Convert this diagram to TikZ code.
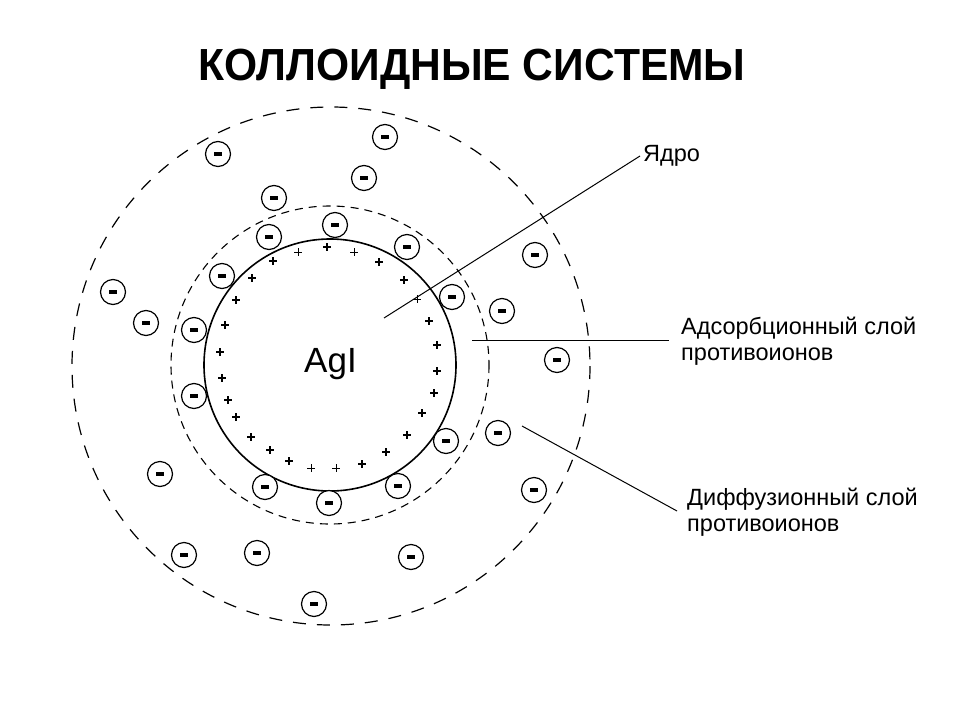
\documentclass[tikz,border=0pt]{standalone}
\usepackage{fontspec}
\setmainfont{Liberation Sans}
\begin{document}
\begin{tikzpicture}[x=1pt,y=-1pt,
  ion/.style={circle,draw,line width=1.2pt,minimum size=25pt,inner sep=0pt,fill=white,
    path picture={\fill[black] ([xshift=-4pt,yshift=-1.8pt]path picture bounding box.center) rectangle ([xshift=4pt,yshift=1.8pt]path picture bounding box.center);}},
  pl/.style={inner sep=0pt,minimum size=8pt,
    path picture={\draw[line width=#1] (path picture bounding box.north) -- (path picture bounding box.south)
      (path picture bounding box.west) -- (path picture bounding box.east);}},
  lbl/.style={font=\fontsize{23.5}{26}\selectfont,align=left,inner sep=0pt,anchor=base west},
  leader/.style={line width=1pt}]
\useasboundingbox (0,0) rectangle (960,720);
\fill[white] (0,0) rectangle (960,720);
% title
\node[font=\fontsize{45}{50}\selectfont\bfseries,inner sep=0pt,anchor=base,xscale=0.946] (title) at (472,80) {КОЛЛОИДНЫЕ СИСТЕМЫ};
% circles
\coordinate (c) at (330,365);
\draw[line width=1.6pt] (c) circle[radius=126];
\draw[line width=1.1pt,dash pattern=on 8pt off 6pt] (c) circle[radius=159];
\draw[line width=1.2pt,dash pattern=on 13pt off 11pt] (331,366) circle[radius=259];
% core
\node[font=\fontsize{35}{40}\selectfont,inner sep=0pt,anchor=base west] (agi) at (304,372) {AgI};
% plus signs
\foreach \i/\x/\y/\w in {1/273/261/1.5,2/298/252/1,3/327/247/1.6,4/354/252/1,5/379/262/1.6,
  6/404/280/1.6,7/417/299/0.9,8/429/321/1.2,9/437/345/1.6,10/437/371/1.1,11/434/393/1.6,
  12/422/413/1.6,13/407/435/1.1,14/386/452/1.6,15/362/464/1.6,16/336/468/1,17/311/468/1,
  18/289/461/1.3,19/270/450/1.3,20/251/437/1.3,21/236/417/1.3,22/228/400/1.3,23/222/378/1.3,
  24/220/352/1.3,25/225/325/1.3,26/236/300/1.3,27/252/278/1.3}
  \node[pl=\w pt] (p\i) at (\x,\y) {};
% leader lines (drawn below ions)
\coordinate (ys) at (384,318);
\coordinate (ye) at (640,156);
\coordinate (as) at (472,340);
\coordinate (ae) at (669,340);
\coordinate (ds) at (522,426);
\coordinate (de) at (677,511);
\draw[leader] (ys) -- (ye);
\draw[leader] (as) -- (ae);
\draw[leader] (ds) -- (de);
% negative ions
\foreach \i/\x/\y in {1/218/154,2/385/137,3/364/178,4/274/198,5/335/225,6/269/237,7/407/247,
  8/222/276,9/113/292,10/146/323,11/194/330,12/452/297,13/502/311,14/535/255,15/557/360,
  16/194/396,17/446/441,18/498/433,19/534/490,20/160/474,21/265/487,22/329/503,23/398/486,
  24/184/555,25/257/553,26/411/557,27/314/604}
  \node[ion] (m\i) at (\x,\y) {};
% labels (base anchor = baseline of last line)
\node[lbl] (yadro) at (643,161) {Ядро};
\node[lbl] (ads) at (681,360) {Адсорбционный слой\\противоионов};
\node[lbl] (dif) at (687,531) {Диффузионный слой\\противоионов};
\end{tikzpicture}
\end{document}
